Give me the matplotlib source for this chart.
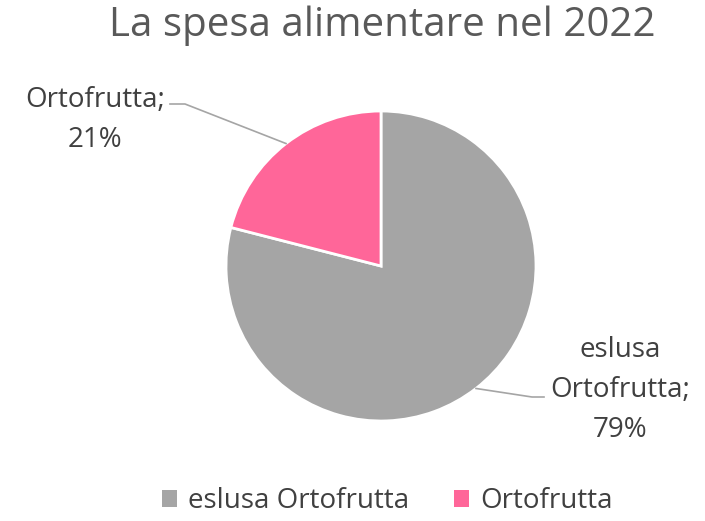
import numpy as np
import matplotlib.pyplot as plt
from matplotlib.patches import Patch

# dati
categorie = ['eslusa Ortofrutta', 'Ortofrutta']
quote = [79, 21]
colori = ['#A5A5A5', '#FF6699']
etichette = ['eslusa\nOrtofrutta;\n79%', 'Ortofrutta;\n21%']

plt.rcParams['font.family'] = ['Open Sans', 'DejaVu Sans']

W, H = 705, 521
fig = plt.figure(figsize=(W / 100, H / 100), dpi=100)
ax = fig.add_axes([0, 0, 1, 1])

# coordinate in pixel (y verso l'alto)
cx, cy, r = 381, H - 266, 155
wedges, _ = ax.pie(quote, colors=colori, startangle=90, counterclock=False,
                   center=(cx, cy), radius=r, frame=True,
                   wedgeprops=dict(edgecolor='white', linewidth=2))
ax.set_xlim(0, W)
ax.set_ylim(0, H)
ax.set_aspect('equal')
ax.axis('off')

# etichette con linee guida
pos_testo = [(620, H - 390), (95, H - 120)]
gomito = [(532, H - 397), (185, H - 104)]
fine = [(544, H - 397), (170, H - 104)]
for w, lab, pt, gm, fn in zip(wedges, etichette, pos_testo, gomito, fine):
    ang = np.deg2rad((w.theta1 + w.theta2) / 2)
    ex = cx + r * np.cos(ang)
    ey = cy + r * np.sin(ang)
    ax.plot([ex, gm[0], fn[0]], [ey, gm[1], fn[1]], color='#A5A5A5', lw=1.2)
    ax.text(pt[0], pt[1], lab, ha='center', va='center', fontsize=20,
            color='#404040', linespacing=1.55)

fig.text(382 / W, 1 - 26 / H, 'La spesa alimentare nel 2022', ha='center', va='center',
         fontsize=29, color='#595959')

handles = [Patch(facecolor=c, edgecolor='none') for c in colori]
fig.legend(handles, categorie, loc='center', bbox_to_anchor=(387 / W, 1 - 501 / H),
           ncol=2, frameon=False, fontsize=20, handlelength=0.55, handleheight=0.55,
           columnspacing=1.6, handletextpad=0.4, labelcolor='#404040')

fig.savefig('out.png', dpi=100)
